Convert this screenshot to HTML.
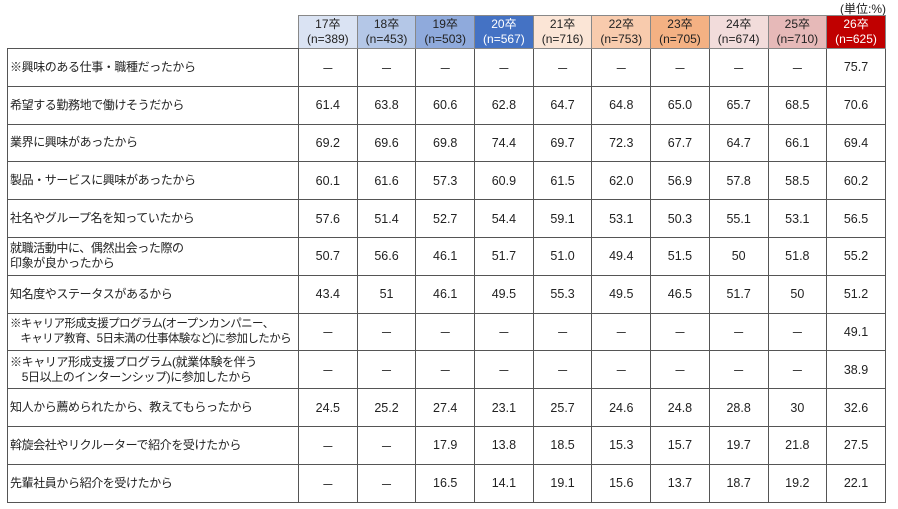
<!DOCTYPE html>
<html><head><meta charset="utf-8"><style>
body{margin:0;background:#fff;width:898px;height:509px;position:relative;overflow:hidden;font-family:"Liberation Sans","Noto Sans CJK JP",sans-serif;color:#222;}
.unit{position:absolute;right:12px;top:0px;font-size:12px;}
table{position:absolute;left:7px;top:15px;border-collapse:collapse;table-layout:fixed;}
td,th{border:1px solid #555;padding:0;font-weight:normal;overflow:hidden;}
th{height:32px;font-size:12px;line-height:15px;text-align:center;border-color:#888;}
td{height:36.8px;font-size:12.5px;text-align:center;}
td.l{text-align:left;padding-left:2px;font-size:12px;line-height:15px;white-space:nowrap;letter-spacing:-0.4px;}
th.e{border:none;border-bottom:1px solid #555;}
</style></head><body>
<div class="unit">(単位:%)</div>
<table>
<colgroup><col style="width:291px"><col span="10" style="width:58.7px"></colgroup>
<tr><th class="e"></th>
<th style="background:#dae3f3">17卒<br>(n=389)</th>
<th style="background:#b4c7e7">18卒<br>(n=453)</th>
<th style="background:#8faadc">19卒<br>(n=503)</th>
<th style="background:#4472c4;color:#fff">20卒<br>(n=567)</th>
<th style="background:#fbe5d6">21卒<br>(n=716)</th>
<th style="background:#f8cbad">22卒<br>(n=753)</th>
<th style="background:#f4b183">23卒<br>(n=705)</th>
<th style="background:#f2dcdb">24卒<br>(n=674)</th>
<th style="background:#e6b9b8">25卒<br>(n=710)</th>
<th style="background:#c00000;color:#fff">26卒<br>(n=625)</th></tr>
<tr><td class="l">※興味のある仕事・職種だったから</td><td>－</td><td>－</td><td>－</td><td>－</td><td>－</td><td>－</td><td>－</td><td>－</td><td>－</td><td>75.7</td></tr>
<tr><td class="l">希望する勤務地で働けそうだから</td><td>61.4</td><td>63.8</td><td>60.6</td><td>62.8</td><td>64.7</td><td>64.8</td><td>65.0</td><td>65.7</td><td>68.5</td><td>70.6</td></tr>
<tr><td class="l">業界に興味があったから</td><td>69.2</td><td>69.6</td><td>69.8</td><td>74.4</td><td>69.7</td><td>72.3</td><td>67.7</td><td>64.7</td><td>66.1</td><td>69.4</td></tr>
<tr><td class="l">製品・サービスに興味があったから</td><td>60.1</td><td>61.6</td><td>57.3</td><td>60.9</td><td>61.5</td><td>62.0</td><td>56.9</td><td>57.8</td><td>58.5</td><td>60.2</td></tr>
<tr><td class="l">社名やグループ名を知っていたから</td><td>57.6</td><td>51.4</td><td>52.7</td><td>54.4</td><td>59.1</td><td>53.1</td><td>50.3</td><td>55.1</td><td>53.1</td><td>56.5</td></tr>
<tr><td class="l">就職活動中に、偶然出会った際の<br>印象が良かったから</td><td>50.7</td><td>56.6</td><td>46.1</td><td>51.7</td><td>51.0</td><td>49.4</td><td>51.5</td><td>50</td><td>51.8</td><td>55.2</td></tr>
<tr><td class="l">知名度やステータスがあるから</td><td>43.4</td><td>51</td><td>46.1</td><td>49.5</td><td>55.3</td><td>49.5</td><td>46.5</td><td>51.7</td><td>50</td><td>51.2</td></tr>
<tr><td class="l" style="font-size:11.5px;letter-spacing:-0.6px">※キャリア形成支援プログラム(オープンカンパニー、<br>&nbsp;&nbsp;&nbsp;&nbsp;キャリア教育、5日未満の仕事体験など)に参加したから</td><td>－</td><td>－</td><td>－</td><td>－</td><td>－</td><td>－</td><td>－</td><td>－</td><td>－</td><td>49.1</td></tr>
<tr><td class="l">※キャリア形成支援プログラム(就業体験を伴う<br>&nbsp;&nbsp;&nbsp;&nbsp;5日以上のインターンシップ)に参加したから</td><td>－</td><td>－</td><td>－</td><td>－</td><td>－</td><td>－</td><td>－</td><td>－</td><td>－</td><td>38.9</td></tr>
<tr><td class="l">知人から薦められたから、教えてもらったから</td><td>24.5</td><td>25.2</td><td>27.4</td><td>23.1</td><td>25.7</td><td>24.6</td><td>24.8</td><td>28.8</td><td>30</td><td>32.6</td></tr>
<tr><td class="l">斡旋会社やリクルーターで紹介を受けたから</td><td>－</td><td>－</td><td>17.9</td><td>13.8</td><td>18.5</td><td>15.3</td><td>15.7</td><td>19.7</td><td>21.8</td><td>27.5</td></tr>
<tr><td class="l">先輩社員から紹介を受けたから</td><td>－</td><td>－</td><td>16.5</td><td>14.1</td><td>19.1</td><td>15.6</td><td>13.7</td><td>18.7</td><td>19.2</td><td>22.1</td></tr>
</table>
</body></html>
